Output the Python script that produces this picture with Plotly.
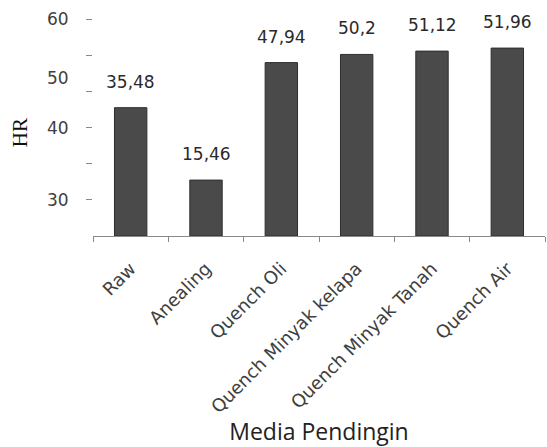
import plotly.graph_objects as go

categories = ["Raw", "Anealing", "Quench Oli", "Quench Minyak kelapa", "Quench Minyak Tanah", "Quench Air"]
values = [35.48, 15.46, 47.94, 50.2, 51.12, 51.96]
value_labels = ["35,48", "15,46", "47,94", "50,2", "51,12", "51,96"]
# y tick labels as printed in the reference, with the axis value they sit at
ytick_text = ["60", "50", "40", "30"]
ytick_pos = [60, 43.7, 30, 10]
ytick_marks = [10, 20, 30, 40, 50, 60]

fig = go.Figure()
fig.add_trace(go.Bar(
    x=categories, y=values, width=0.43,
    marker=dict(color="#4a4a4a", line=dict(color="#2e2e2e", width=1)),
    hoverinfo="skip",
))

ann = []
for c, v, t in zip(categories, values, value_labels):
    ann.append(dict(x=c, y=v, text=t, showarrow=False, xanchor="center", yanchor="bottom",
                    yshift=14, font=dict(family="DejaVu Sans", size=17, color="#2a2a2a")))
for t, p in zip(ytick_text, ytick_pos):
    ann.append(dict(x=0, xref="paper", y=p, yref="y", text=t, showarrow=False, xanchor="right",
                    yanchor="middle", xshift=-22, font=dict(family="DejaVu Sans", size=17, color="#404040")))
ann.append(dict(x=-0.161, xref="paper", y=28.5, yref="y", text="HR", showarrow=False, textangle=-90,
                xanchor="center", yanchor="middle",
                font=dict(family="Liberation Serif", size=21, color="#111")))

fig.update_layout(
    width=547, height=447,
    margin=dict(l=93, r=2, t=19, b=211),
    paper_bgcolor="white", plot_bgcolor="white",
    showlegend=False,
    bargap=0.57,
    annotations=ann,
    xaxis=dict(
        tickangle=-45, tickson="boundaries", ticks="outside", ticklen=5, tickcolor="#888",
        ticklabelstandoff=14,
        showline=True, linecolor="#8a8a8a", linewidth=1, showgrid=False,
        tickfont=dict(family="DejaVu Sans", size=18, color="#404040"),
        title=dict(text="Media Pendingin", font=dict(family="Open Sans", size=23, color="#222"), standoff=4),
    ),
    yaxis=dict(
        range=[0, 60], tickmode="array", tickvals=ytick_marks, ticktext=[""] * len(ytick_marks),
        ticks="outside", ticklen=6, tickcolor="#888", showline=False, showgrid=False, zeroline=False,
    ),
)
fig.write_html("out.html")
